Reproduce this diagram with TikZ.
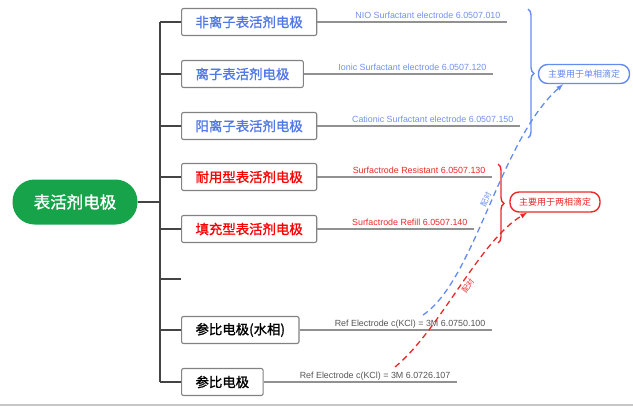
\documentclass[tikz,border=0pt]{standalone}
\usepackage{fontspec}
\setmainfont{Liberation Sans}
\newfontfamily\cjk[AutoFakeBold=1.2]{Noto Sans CJK SC}
\usepackage{tikz}
\usetikzlibrary{decorations.pathreplacing}
\tikzset{>=latex}
\definecolor{Trunk}{RGB}{68,68,68}
\definecolor{Frame}{RGB}{130,130,130}
\definecolor{Lead}{RGB}{145,145,145}
\definecolor{Leaf}{RGB}{22,163,74}
\definecolor{BlueT}{RGB}{80,120,230}
\definecolor{BlueL}{RGB}{115,145,235}
\definecolor{BlueN}{RGB}{100,140,240}
\definecolor{RedT}{RGB}{250,0,0}
\definecolor{RedL}{RGB}{235,40,40}
\definecolor{RefT}{RGB}{85,85,85}

\tikzset{
  root/.style={fill=Leaf,text=white,rounded corners=22pt,minimum width=125pt,minimum height=45pt,font=\cjk\bfseries\fontsize{16.5}{18}\selectfont},
  trunk/.style={Trunk,line width=2pt},
  item/.style={draw=Frame,line width=1.1pt,rounded corners=2pt,fill=white,anchor=west,inner xsep=14pt,minimum height=27pt,font=\cjk\bfseries\fontsize{13.4}{15}\selectfont},
  lead/.style={Lead,line width=1.2pt},
  code/.style={pos=1,anchor=base east,inner sep=0pt,xshift=-6pt,yshift=3.5pt,font=\fontsize{8.9}{9}\selectfont},
  note/.style={rounded corners=9pt,line width=1.4pt,fill=white,inner sep=0pt,font=\cjk\fontsize{9}{10}\selectfont},
  group/.style={decorate,decoration={brace,amplitude=6pt},line width=1.4pt},
  pair/.style={->,line width=1.3pt,dash pattern=on 6pt off 4pt},
  word/.style={sloped,inner sep=2pt,font=\cjk\fontsize{7.5}{8}\selectfont}
}

\begin{document}
\begin{tikzpicture}[x=1pt,y=-1pt]
\useasboundingbox (0,0) rectangle (633,407);

% root and trunk
\node[root] (root) at (75,202) {表活剂电极};
\coordinate (top) at (160,22);
\coordinate (bot) at (160,382);
\draw[trunk] (top) -- (bot);
\draw[trunk] (root.east) -- (root.east -| top);

% electrodes
\node[item,text=BlueT] (nio) at (181,22) {非离子表活剂电极};
\node[item,text=BlueT] (ionic) at (181,74) {离子表活剂电极};
\node[item,text=BlueT] (cation) at (181,126) {阳离子表活剂电极};
\node[item,text=RedT] (resist) at (181,177) {耐用型表活剂电极};
\node[item,text=RedT] (refill) at (181,229) {填充型表活剂电极};
\coordinate (gap) at (181,279);
\node[item,text=black] (refaq) at (181,330) {参比电极(水相)};
\node[item,text=black] (ref) at (181,382) {参比电极};

\draw[trunk] (nio.west -| top) -- (nio.west);
\draw[trunk] (ionic.west -| top) -- (ionic.west);
\draw[trunk] (cation.west -| top) -- (cation.west);
\draw[trunk] (resist.west -| top) -- (resist.west);
\draw[trunk] (refill.west -| top) -- (refill.west);
\draw[trunk] (gap -| top) -- (gap);
\draw[trunk] (refaq.west -| top) -- (refaq.west);
\draw[trunk] (ref.west -| top) -- (ref.west);

% order numbers
\coordinate (e1) at (507,22);
\coordinate (e2) at (493,74);
\coordinate (e3) at (520,126);
\coordinate (e4) at (492,177);
\coordinate (e5) at (474,229);
\coordinate (e6) at (492,330);
\coordinate (e7) at (457,382);
\draw[lead] (nio.east) -- (e1) node[code,text=BlueL]{NIO Surfactant electrode 6.0507.010};
\draw[lead] (ionic.east) -- (e2) node[code,text=BlueL]{Ionic Surfactant electrode 6.0507.120};
\draw[lead] (cation.east) -- (e3) node[code,text=BlueL]{Cationic Surfactant electrode 6.0507.150};
\draw[lead] (resist.east) -- (e4) node[code,text=RedL]{Surfactrode Resistant 6.0507.130};
\draw[lead] (refill.east) -- (e5) node[code,text=RedL]{Surfactrode Refill 6.0507.140};
\draw[lead] (refaq.east) -- (e6) node[code,text=RefT]{Ref Electrode c(KCl) = 3M 6.0750.100};
\draw[lead] (ref.east) -- (e7) node[code,text=RefT]{Ref Electrode c(KCl) = 3M 6.0726.107};

% groups
\coordinate (g1) at (528,9);
\coordinate (g2) at (528,138);
\coordinate (g3) at (498,164);
\coordinate (g4) at (498,243);
\draw[group,BlueN] (g1) -- (g2);
\draw[group,RedL] (g3) -- (g4);
\node[note,draw=BlueN,text=BlueN,minimum width=91pt,minimum height=19pt] (single) at (584,74) {主要用于单相滴定};
\node[note,draw=RedL,text=RedL,minimum width=90pt,minimum height=20pt] (double) at (555,202) {主要用于两相滴定};

% pairing
\coordinate (b0) at (423,315);
\coordinate (r0) at (395,367);
\draw[pair,BlueN] (b0) .. controls (475,280) and (500,140) .. (single.206) node[word,pos=0.52,above,text=BlueN]{配对};
\draw[pair,RedL] (r0) .. controls (440,330) and (480,240) .. (double.201) node[word,pos=0.52,below,text=RedL]{配对};

\draw[gray!45,line width=2pt] (0,405) -- (633,405);
\end{tikzpicture}
\end{document}
